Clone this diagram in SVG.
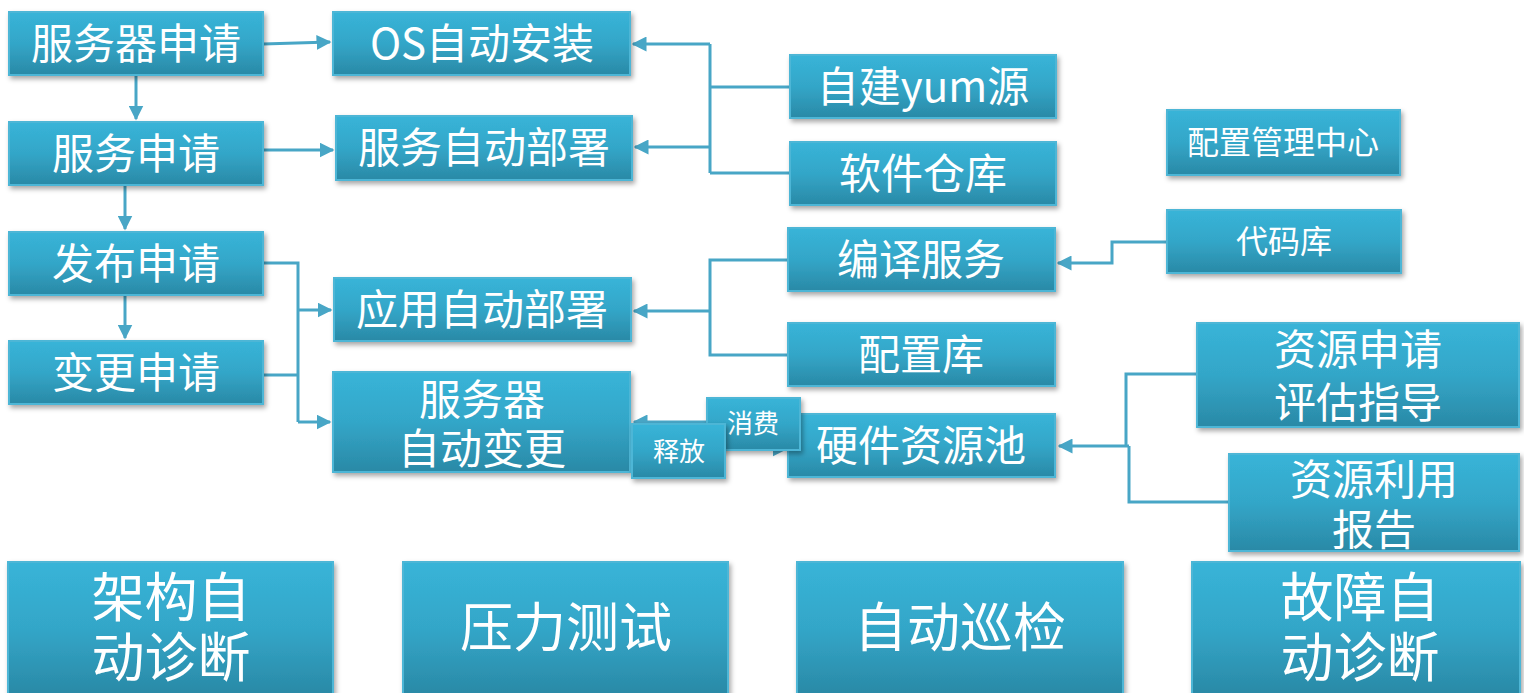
<svg xmlns="http://www.w3.org/2000/svg" width="1524" height="693" viewBox="0 0 1524 693">
<defs>
<linearGradient id="g" x1="0" y1="0" x2="0" y2="1">
<stop offset="0" stop-color="#38B4D8"/>
<stop offset="0.5" stop-color="#33A6C8"/>
<stop offset="1" stop-color="#2A89A6"/>
</linearGradient>
<filter id="sh" x="-10%" y="-10%" width="125%" height="135%">
<feDropShadow dx="2" dy="3" stdDeviation="2.5" flood-color="#000" flood-opacity="0.35"/>
</filter>
<marker id="ah" viewBox="0 0 10 10" refX="9" refY="5" markerWidth="5" markerHeight="5" orient="auto" markerUnits="strokeWidth">
<path d="M0,0 L10,5 L0,10 z" fill="#48A6C6"/>
</marker>
</defs>
<style>
.b{fill:url(#g);stroke:#4DB6D6;stroke-width:2;filter:url(#sh)}
.t{fill:#fff;font-family:"Noto Sans CJK SC","Noto Sans",sans-serif;text-anchor:middle}
.c{fill:none;stroke:#48A6C6;stroke-width:3}
</style>
<rect width="1524" height="693" fill="#fff"/>
<g id="connectors">
<path class="c" d="M263,44 L330,42" marker-end="url(#ah)"/>
<path class="c" d="M136,75 L136,119" marker-end="url(#ah)"/>
<path class="c" d="M125,185 L125,229" marker-end="url(#ah)"/>
<path class="c" d="M125,295 L125,338" marker-end="url(#ah)"/>
<path class="c" d="M263,150 L333,150" marker-end="url(#ah)"/>
<path class="c" d="M790,87 L710,87 M790,173 L710,173 M710,173 L710,44"/>
<path class="c" d="M710,44 L633,44" marker-end="url(#ah)"/>
<path class="c" d="M710,147 L635,147" marker-end="url(#ah)"/>
<path class="c" d="M263,263 L298,263 L298,422 M263,375 L298,375"/>
<path class="c" d="M298,310 L331,310" marker-end="url(#ah)"/>
<path class="c" d="M298,422 L330,422" marker-end="url(#ah)"/>
<path class="c" d="M788,260 L710,260 L710,355 L788,355"/>
<path class="c" d="M710,311 L634,311" marker-end="url(#ah)"/>
<path class="c" d="M1167,242 L1112,242 L1112,263 L1058,263" marker-end="url(#ah)"/>
<path class="c" d="M1197,374 L1126,374 L1126,446 M1229,502 L1129,502 L1129,446"/>
<path class="c" d="M1129,446 L1059,446" marker-end="url(#ah)"/>
<path class="c" d="M715,422 L634,422" marker-end="url(#ah)"/>
<path class="c" d="M725,449 L786,449" marker-end="url(#ah)"/>
</g>
<g id="n1"><rect class="b" x="9" y="12" width="254" height="63"/><text class="t" x="136" y="59" font-size="42">服务器申请</text></g>
<g id="n2"><rect class="b" x="9" y="122" width="254" height="63"/><text class="t" x="136" y="169" font-size="42">服务申请</text></g>
<g id="n3"><rect class="b" x="9" y="232" width="254" height="63"/><text class="t" x="136" y="279" font-size="42">发布申请</text></g>
<g id="n4"><rect class="b" x="9" y="341" width="254" height="63"/><text class="t" x="136" y="388" font-size="42">变更申请</text></g>
<g id="n5"><rect class="b" x="333" y="12" width="297" height="63"/><text class="t" x="482" y="59" font-size="42">OS自动安装</text></g>
<g id="n6"><rect class="b" x="336" y="116" width="296" height="64"/><text class="t" x="484" y="163" font-size="42">服务自动部署</text></g>
<g id="n7"><rect class="b" x="334" y="278" width="297" height="63"/><text class="t" x="482" y="325" font-size="42">应用自动部署</text></g>
<g id="n8"><rect class="b" x="333" y="372" width="297" height="100"/><text class="t" font-size="42"><tspan x="482" y="415">服务器</tspan><tspan x="482" y="464">自动变更</tspan></text></g>
<g id="n9"><rect class="b" x="790" y="55" width="266" height="63"/><text class="t" x="923" y="102" font-size="42">自建yum源</text></g>
<g id="n10"><rect class="b" x="790" y="142" width="266" height="63"/><text class="t" x="923" y="189" font-size="42">软件仓库</text></g>
<g id="n11"><rect class="b" x="788" y="228" width="267" height="63"/><text class="t" x="921" y="275" font-size="42">编译服务</text></g>
<g id="n12"><rect class="b" x="788" y="323" width="267" height="63"/><text class="t" x="921" y="370" font-size="42">配置库</text></g>
<g id="n13"><rect class="b" x="788" y="414" width="267" height="63"/><text class="t" x="921" y="461" font-size="42">硬件资源池</text></g>
<g id="n14"><rect class="b" x="1167" y="110" width="233" height="65"/><text class="t" x="1283" y="154" font-size="32">配置管理中心</text></g>
<g id="n15"><rect class="b" x="1167" y="210" width="234" height="63"/><text class="t" x="1284" y="253" font-size="32">代码库</text></g>
<g id="n16"><rect class="b" x="1197" y="323" width="322" height="104"/><text class="t" font-size="42"><tspan x="1358" y="365">资源申请</tspan><tspan x="1358" y="418">评估指导</tspan></text></g>
<g id="n17"><rect class="b" x="1229" y="454" width="290" height="97"/><text class="t" font-size="42"><tspan x="1374" y="495">资源利用</tspan><tspan x="1374" y="545">报告</tspan></text></g>
<g id="n19"><rect class="b" x="707" y="398" width="93" height="52"/><text class="t" x="753" y="433" font-size="26">消费</text></g>
<g id="n18"><rect class="b" x="632" y="424" width="93" height="54"/><text class="t" x="679" y="461" font-size="26">释放</text></g>
<g id="n20"><rect class="b" x="8" y="562" width="325" height="133"/><text class="t" font-size="53"><tspan x="171" y="617">架构自</tspan><tspan x="171" y="677">动诊断</tspan></text></g>
<g id="n21"><rect class="b" x="403" y="562" width="325" height="133"/><text class="t" x="566" y="647" font-size="53">压力测试</text></g>
<g id="n22"><rect class="b" x="797" y="562" width="326" height="133"/><text class="t" x="960" y="647" font-size="53">自动巡检</text></g>
<g id="n23"><rect class="b" x="1192" y="562" width="328" height="133"/><text class="t" font-size="53"><tspan x="1360" y="617">故障自</tspan><tspan x="1360" y="677">动诊断</tspan></text></g>
</svg>
